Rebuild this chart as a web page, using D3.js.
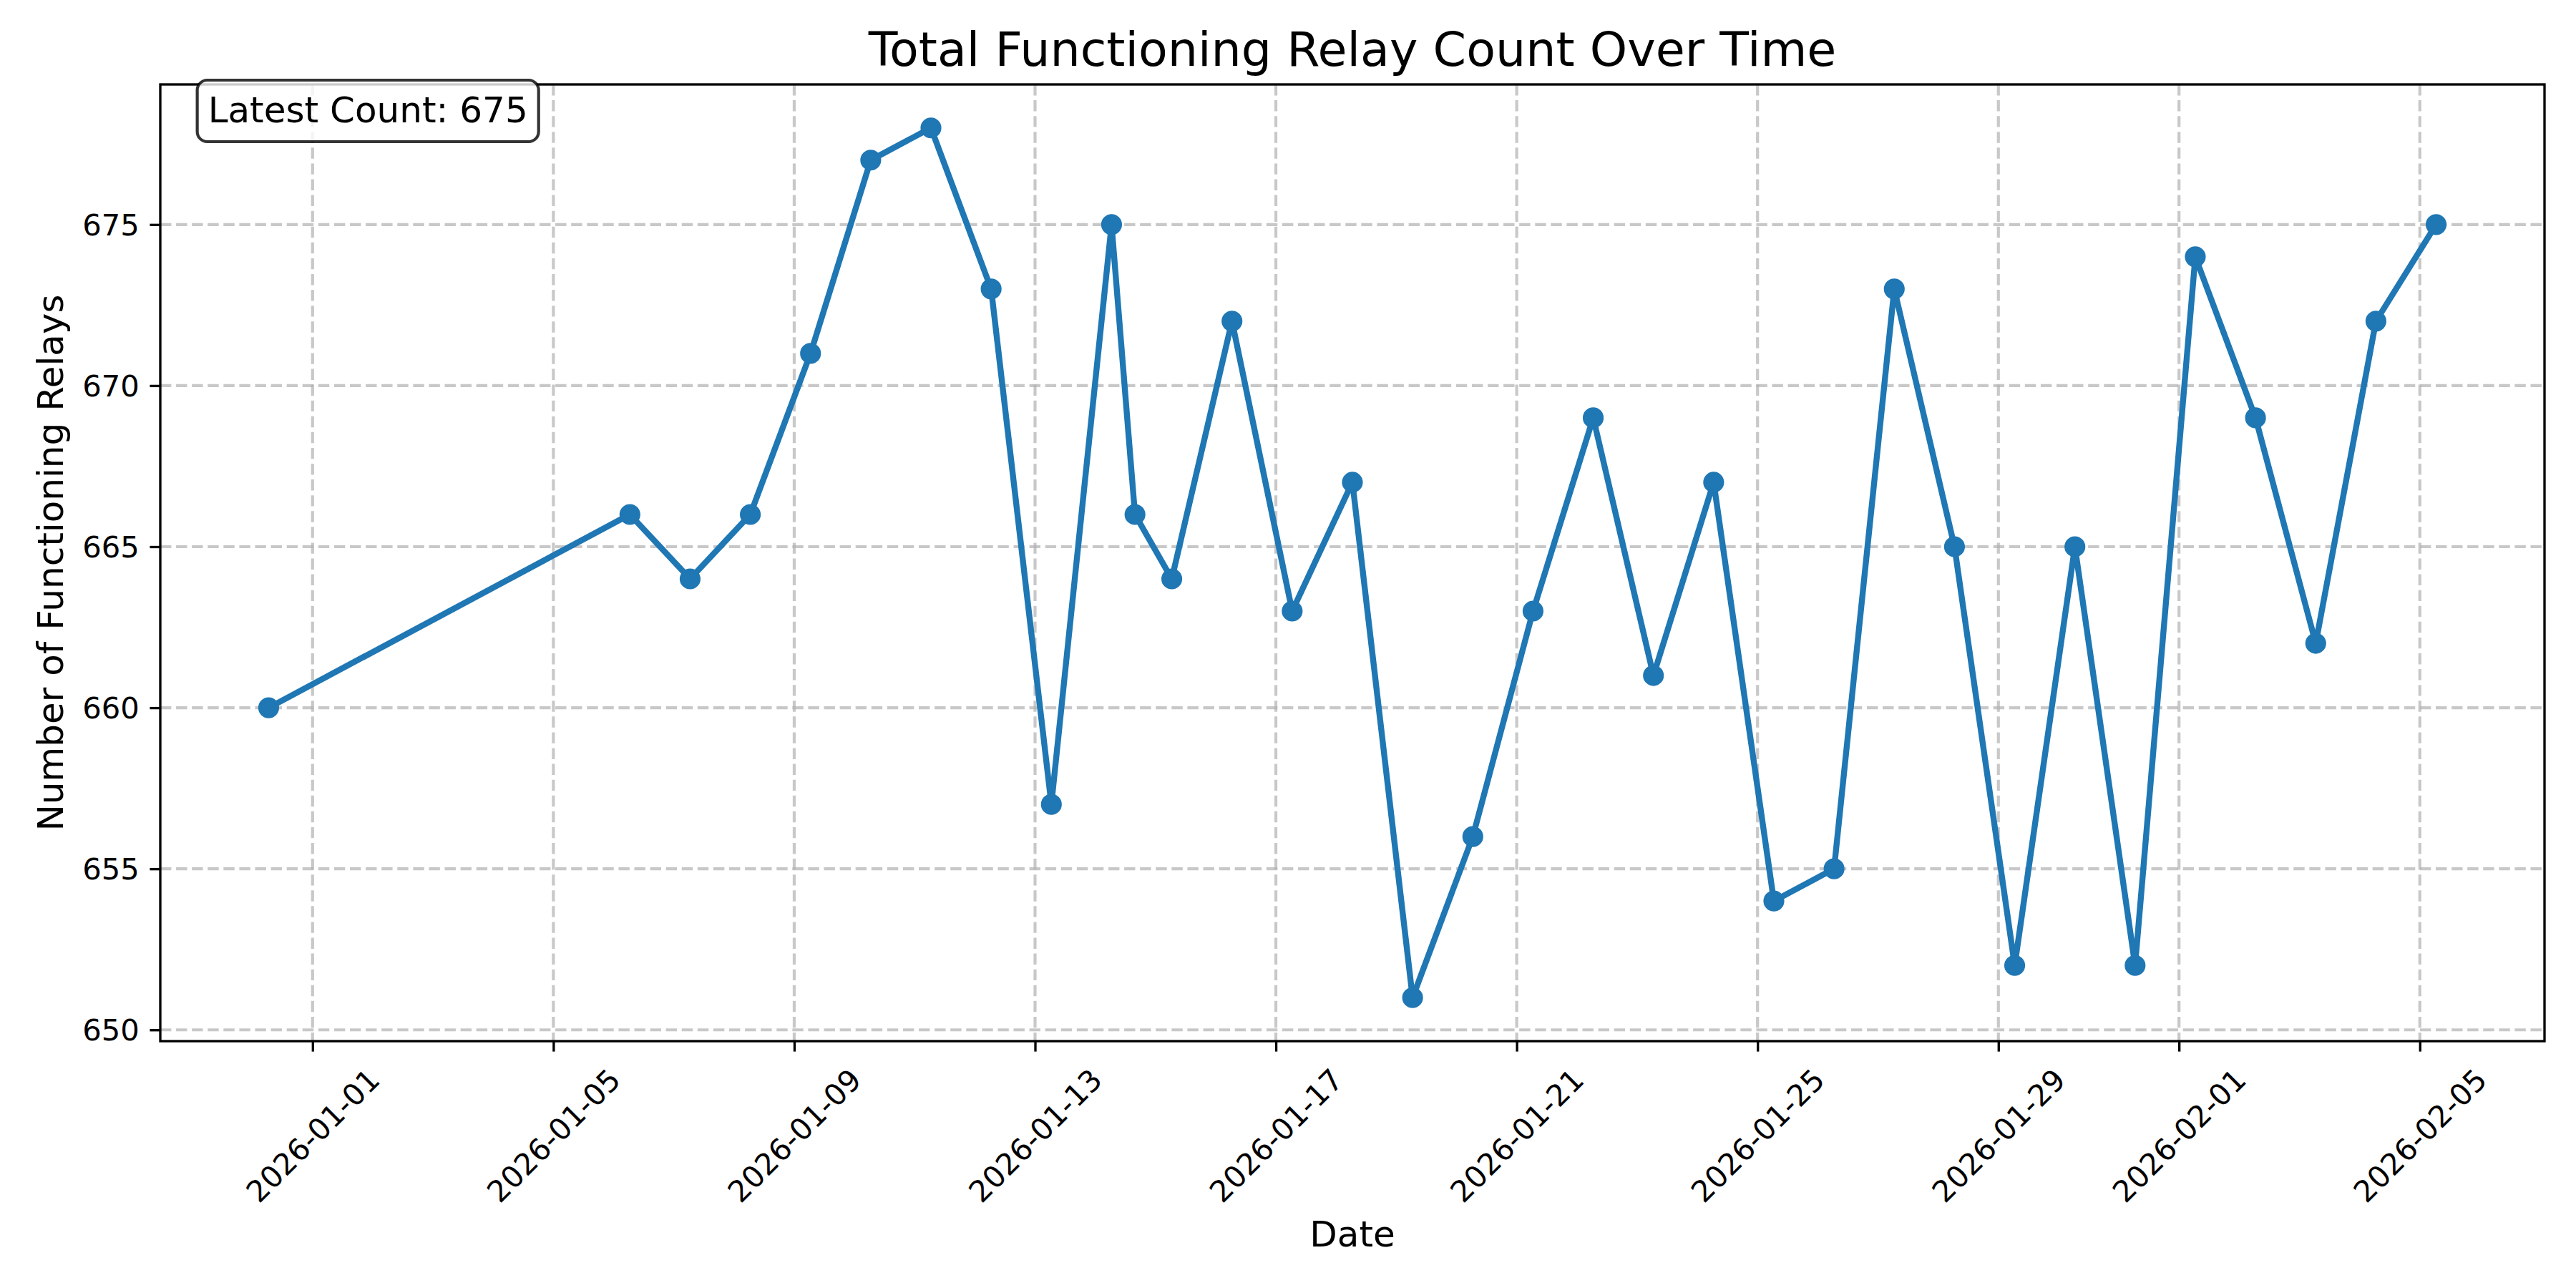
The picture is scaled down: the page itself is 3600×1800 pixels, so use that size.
<!DOCTYPE html>
<html>
<head>
<meta charset="utf-8">
<script src="https://cdn.jsdelivr.net/npm/d3@7"></script>
<style>
  html, body { margin: 0; padding: 0; background: #fff; }
  svg { display: block; font-family: "DejaVu Sans", sans-serif; }
</style>
</head>
<body>
<div id="chart"></div>
<script>
// ── Data ──────────────────────────────────────────────────────
const timestamps = [
  "2025-12-31T06:30", "2026-01-06T06:30", "2026-01-07T06:30", "2026-01-08T06:30",
  "2026-01-09T06:30", "2026-01-10T06:30", "2026-01-11T06:30", "2026-01-12T06:30",
  "2026-01-13T06:30", "2026-01-14T06:30", "2026-01-14T15:50", "2026-01-15T06:30",
  "2026-01-16T06:30", "2026-01-17T06:30", "2026-01-18T06:30", "2026-01-19T06:30",
  "2026-01-20T06:30", "2026-01-21T06:30", "2026-01-22T06:30", "2026-01-23T06:30",
  "2026-01-24T06:30", "2026-01-25T06:30", "2026-01-26T06:30", "2026-01-27T06:30",
  "2026-01-28T06:30", "2026-01-29T06:30", "2026-01-30T06:30", "2026-01-31T06:30",
  "2026-02-01T06:30", "2026-02-02T06:30", "2026-02-03T06:30", "2026-02-04T06:30",
  "2026-02-05T06:30"
];
const relayCounts = [
  660, 666, 664, 666, 671, 677, 678, 673, 657, 675, 666, 664, 672, 663, 667, 651,
  656, 663, 669, 661, 667, 654, 655, 673, 665, 652, 665, 652, 674, 669, 662, 672, 675
];
const xTickDates = [
  "2026-01-01", "2026-01-05", "2026-01-09", "2026-01-13", "2026-01-17",
  "2026-01-21", "2026-01-25", "2026-01-29", "2026-02-01", "2026-02-05"
];
const yTickValues = [650, 655, 660, 665, 670, 675];

const titleText = "Total Functioning Relay Count Over Time";
const xLabelText = "Date";
const yLabelText = "Number of Functioning Relays";

// ── Layout ────────────────────────────────────────────────────
const width = 3600, height = 1800;
const margin = { left: 224, right: 44, top: 118, bottom: 345 };
const plotW = width - margin.left - margin.right;
const plotH = height - margin.top - margin.bottom;

const PT = 300 / 72;              // figure was rendered at 300 dpi
const blue = "#1f77b4";

const parseTime = d3.utcParse("%Y-%m-%dT%H:%M");
const parseDay = d3.utcParse("%Y-%m-%d");
const points = timestamps.map((t, i) => ({ date: parseTime(t), value: relayCounts[i] }));

// matplotlib-style 5% padding on both axes
function padded(extent) {
  const span = extent[1] - extent[0];
  return [extent[0] - span * 0.05, extent[1] + span * 0.05];
}
const xExt = d3.extent(points, d => +d.date);
const xDom = padded(xExt);
const x = d3.scaleUtc()
  .domain([new Date(xDom[0]), new Date(xDom[1])])
  .range([0, plotW]);
const y = d3.scaleLinear()
  .domain(padded(d3.extent(points, d => d.value)))
  .range([plotH, 0]);

const svg = d3.select("#chart").append("svg")
  .attr("width", width)
  .attr("height", height);

svg.append("rect").attr("width", width).attr("height", height).attr("fill", "#fff");

const g = svg.append("g").attr("transform", `translate(${margin.left},${margin.top})`);

// ── Grid ──────────────────────────────────────────────────────
const xTicks = xTickDates.map(parseDay);
const gridStyle = sel => sel
  .attr("stroke", "#b0b0b0")
  .attr("stroke-opacity", 0.7)
  .attr("stroke-width", 1 * PT)
  .attr("stroke-dasharray", `${3.7 * PT} ${1.6 * PT}`);

g.append("g").selectAll("line").data(xTicks).join("line")
  .attr("x1", d => x(d)).attr("x2", d => x(d))
  .attr("y1", 0).attr("y2", plotH)
  .call(gridStyle);

g.append("g").selectAll("line").data(yTickValues).join("line")
  .attr("x1", 0).attr("x2", plotW)
  .attr("y1", d => y(d)).attr("y2", d => y(d))
  .call(gridStyle);

// ── Series ────────────────────────────────────────────────────
const line = d3.line().x(d => x(d.date)).y(d => y(d.value));

g.append("path")
  .datum(points)
  .attr("fill", "none")
  .attr("stroke", blue)
  .attr("stroke-width", 2 * PT)
  .attr("stroke-linejoin", "round")
  .attr("stroke-linecap", "butt")
  .attr("d", line);

g.append("g").selectAll("circle").data(points).join("circle")
  .attr("cx", d => x(d.date))
  .attr("cy", d => y(d.value))
  .attr("r", 3 * PT)
  .attr("fill", blue)
  .attr("stroke", blue)
  .attr("stroke-width", 1 * PT);

// ── Axes ──────────────────────────────────────────────────────
const tickLen = 3.5 * PT, tickPad = 3.5 * PT;

const xAxis = d3.axisBottom(x)
  .tickValues(xTicks)
  .tickFormat(d3.utcFormat("%Y-%m-%d"))
  .tickSize(tickLen)
  .tickPadding(tickPad);

const xAxisG = g.append("g")
  .attr("transform", `translate(0,${plotH})`)
  .call(xAxis);
xAxisG.select(".domain").remove();
xAxisG.selectAll(".tick line").attr("stroke", "#000").attr("stroke-width", 0.8 * PT);

// rotated labels, centred under each tick (rotation=45, ha=center)
const tickFont = 10 * PT;
const xLabelBoxHalf = 103;
xAxisG.selectAll(".tick text")
  .attr("font-family", "DejaVu Sans")
  .attr("font-size", tickFont)
  .attr("fill", "#000")
  .attr("y", null).attr("dy", null)
  .attr("text-anchor", "middle")
  .attr("dominant-baseline", "central")
  .attr("transform", `translate(0,${tickLen + tickPad + xLabelBoxHalf}) rotate(-45)`);

const yAxis = d3.axisLeft(y)
  .tickValues(yTickValues)
  .tickFormat(d3.format("d"))
  .tickSize(tickLen)
  .tickPadding(tickPad);

const yAxisG = g.append("g").call(yAxis);
yAxisG.select(".domain").remove();
yAxisG.selectAll(".tick line").attr("stroke", "#000").attr("stroke-width", 0.8 * PT);
yAxisG.selectAll(".tick text")
  .attr("font-family", "DejaVu Sans")
  .attr("font-size", tickFont)
  .attr("fill", "#000")
  .attr("dy", "0.35em");

// spines
g.append("rect")
  .attr("x", 0).attr("y", 0)
  .attr("width", plotW).attr("height", plotH)
  .attr("fill", "none")
  .attr("stroke", "#000")
  .attr("stroke-width", 0.8 * PT);

// ── Latest-count box ──────────────────────────────────────────
const latest = points[points.length - 1].value;
const boxG = g.append("g");
const boxText = boxG.append("text")
  .attr("x", 0.02 * plotW)
  .attr("y", 53)
  .attr("font-family", "DejaVu Sans")
  .attr("font-size", 12 * PT)
  .attr("fill", "#000")
  .text(`Latest Count: ${latest}`);
const bb = boxText.node().getBBox();
const boxPad = 0.3 * 12 * PT;
boxG.insert("rect", "text")
  .attr("x", bb.x - boxPad)
  .attr("y", bb.y - boxPad + 2)
  .attr("width", bb.width + 2 * boxPad)
  .attr("height", bb.height + 2 * boxPad - 2)
  .attr("rx", 14).attr("ry", 14)
  .attr("fill", "#fff")
  .attr("fill-opacity", 0.8)
  .attr("stroke", "#000")
  .attr("stroke-opacity", 0.8)
  .attr("stroke-width", 1 * PT);

// ── Titles ────────────────────────────────────────────────────
svg.append("text")
  .attr("x", margin.left + plotW / 2)
  .attr("y", 92)
  .attr("text-anchor", "middle")
  .attr("font-family", "DejaVu Sans")
  .attr("font-size", 16 * PT)
  .attr("fill", "#000")
  .text(titleText);

svg.append("text")
  .attr("x", margin.left + plotW / 2)
  .attr("y", 1742)
  .attr("text-anchor", "middle")
  .attr("font-family", "DejaVu Sans")
  .attr("font-size", 12 * PT)
  .attr("fill", "#000")
  .text(xLabelText);

svg.append("text")
  .attr("transform", `translate(88,${margin.top + plotH / 2}) rotate(-90)`)
  .attr("text-anchor", "middle")
  .attr("font-family", "DejaVu Sans")
  .attr("font-size", 12 * PT)
  .attr("fill", "#000")
  .text(yLabelText);
</script>
</body>
</html>
